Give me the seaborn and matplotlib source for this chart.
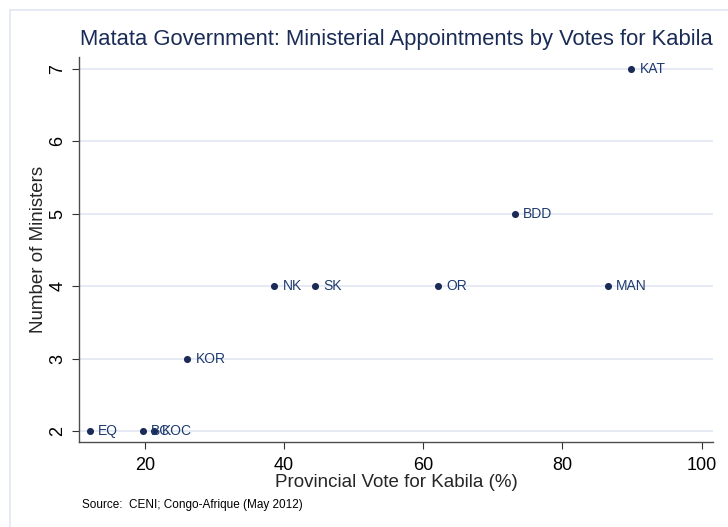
import seaborn as sns
import matplotlib.pyplot as plt
import matplotlib.patches as mpatches
import pandas as pd

# data
provinces = ['KAT', 'MAN', 'BDD', 'OR', 'SK', 'NK', 'KOR', 'BC', 'KOC', 'EQ']
vote_pct = [89.9, 86.5, 73.2, 62.2, 44.5, 38.6, 26.1, 19.7, 21.3, 12.1]
ministers = [7, 4, 5, 4, 4, 4, 3, 2, 2, 2]
y_ticks = [2, 3, 4, 5, 6, 7]
x_ticks = [20, 40, 60, 80, 100]

df = pd.DataFrame({'prov': provinces, 'vote': vote_pct, 'min': ministers})

sns.set_style('white')
plt.rcParams['font.family'] = ['Liberation Sans', 'DejaVu Sans']

navy = '#1a2b55'
label_col = '#1f3a6e'
grid_col = '#e1e6f2'

fig = plt.figure(figsize=(7.28, 5.27), dpi=100)
ax = fig.add_axes([79 / 728, 1 - 442 / 527, (713 - 79) / 728, (442 - 57) / 527])

# light outer frame (graph region border, runs off the right/bottom edge)
fig.patches.append(mpatches.Rectangle((10 / 728, -0.1), 1.2, 1 - 10 / 527 + 0.1,
                                      transform=fig.transFigure, fill=False,
                                      edgecolor=grid_col, linewidth=1.2))

sns.scatterplot(data=df, x='vote', y='min', color=navy, s=26, edgecolor=navy,
                linewidth=0, ax=ax, zorder=3)

for p, xv, yv in zip(provinces, vote_pct, ministers):
    ax.annotate(p, (xv, yv), xytext=(6, 0), textcoords='offset points',
                va='center', ha='left', fontsize=10, color=label_col)

ax.set_xlim(10.56, 101.65)
ax.set_ylim(1.848, 7.166)
ax.set_xticks(x_ticks)
ax.set_yticks(y_ticks)
for yv in y_ticks:
    ax.axhline(yv, color=grid_col, linewidth=1.2, zorder=1)

for s in ['top', 'right']:
    ax.spines[s].set_visible(False)
for s in ['left', 'bottom']:
    ax.spines[s].set_color('#4d4d4d')
    ax.spines[s].set_linewidth(1)

ax.tick_params(axis='both', direction='out', length=5, width=0.8, color='#333333',
               labelsize=13, labelcolor='black', left=True, bottom=True)
ax.tick_params(axis='x', pad=6)
ax.tick_params(axis='y', pad=4)
for lab in ax.get_yticklabels():
    lab.set_rotation(90)
    lab.set_va('center')

ax.set_xlabel('Provincial Vote for Kabila (%)', fontsize=13.5, labelpad=0)
ax.set_ylabel('Number of Ministers', fontsize=13.5, labelpad=2)

fig.text(80 / 728, 1 - 39 / 527, 'Matata Government: Ministerial Appointments by Votes for Kabila',
         fontsize=15.8, color=navy, va='center', ha='left')
fig.text(82 / 728, 1 - 505 / 527, 'Source:  CENI; Congo-Afrique (May 2012)',
         fontsize=8.5, color='black', va='center', ha='left')

fig.savefig('out.png', dpi=100)
